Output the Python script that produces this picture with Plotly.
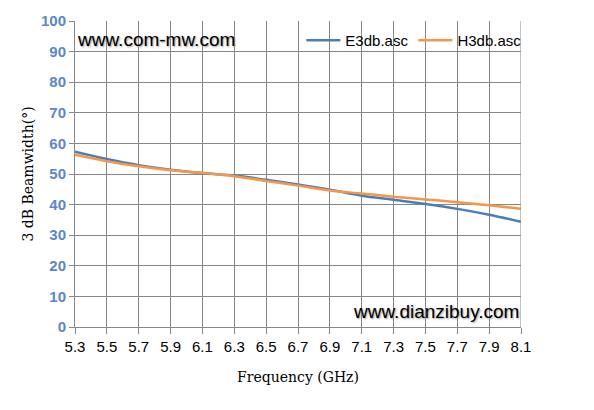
import plotly.graph_objects as go

freq = [5.3, 5.5, 5.7, 5.9, 6.1, 6.3, 6.5, 6.7, 6.9, 7.1, 7.3, 7.5, 7.7, 7.9, 8.1]
e3db = [57.3, 54.9, 52.9, 51.4, 50.3, 49.5, 48.1, 46.6, 44.9, 42.9, 41.6, 40.2, 38.6, 36.7, 34.4]
h3db = [56.3, 54.2, 52.5, 51.2, 50.3, 49.3, 47.7, 46.2, 44.6, 43.6, 42.6, 41.7, 40.8, 39.8, 38.6]
x_ticks = [5.3, 5.5, 5.7, 5.9, 6.1, 6.3, 6.5, 6.7, 6.9, 7.1, 7.3, 7.5, 7.7, 7.9, 8.1]
y_ticks = [0, 10, 20, 30, 40, 50, 60, 70, 80, 90, 100]

fig = go.Figure()
fig.add_trace(go.Scatter(x=freq, y=e3db, mode="lines", name="E3db.asc",
                         line=dict(color="#4A7EBB", width=2.5, shape="spline")))
fig.add_trace(go.Scatter(x=freq, y=h3db, mode="lines", name="H3db.asc",
                         line=dict(color="#F79646", width=2.5, shape="spline")))

fig.update_layout(
    width=594, height=410,
    margin=dict(l=75, r=73, t=21, b=83, autoexpand=False),
    paper_bgcolor="white", plot_bgcolor="white",
    showlegend=True,
    legend=dict(orientation="h", x=1.012, xanchor="right", y=0.99, yanchor="top",
                font=dict(family="Liberation Sans", size=15, color="#000000"),
                bgcolor="rgba(0,0,0,0)", itemwidth=34, tracegroupgap=0),
    xaxis=dict(range=[5.3, 8.1], tickvals=x_ticks, ticktext=[f"{v:.1f}" for v in x_ticks],
               automargin=False,
               showgrid=True, gridcolor="#868686", gridwidth=1,
               showline=True, linecolor="#868686", linewidth=1,
               ticks="outside", ticklen=6, tickcolor="#868686",
               tickfont=dict(family="Liberation Sans", size=15, color="#000000"),
               title=dict(text="Frequency (GHz)", standoff=18,
                          font=dict(family="DejaVu Serif", size=14, color="#000000")),
               zeroline=False, mirror=False),
    yaxis=dict(range=[0, 100], tickvals=y_ticks, automargin=False,
               showgrid=True, gridcolor="#868686", gridwidth=1,
               showline=True, linecolor="#868686", linewidth=1,
               ticks="outside", ticklen=5, tickcolor="#868686",
               tickfont=dict(family="Liberation Sans", size=15, color="#5B87C8", weight="bold"),
               title=dict(text="3 dB Beamwidth(°)", standoff=4,
                          font=dict(family="DejaVu Serif", size=14, color="#000000")),
               zeroline=False),
)

# right grid border line
fig.add_shape(type="line", xref="x", yref="paper", x0=8.1, x1=8.1, y0=0, y1=1,
              line=dict(color="#868686", width=1))

fig.add_annotation(text="www.com-mw.com", xref="paper", yref="paper", x=0.0, y=0.94,
                   xanchor="left", yanchor="middle", showarrow=False,
                   font=dict(family="Liberation Sans", size=19, color="#000000",
                             shadow="1px 1px 2px #999999"))
fig.add_annotation(text="www.dianzibuy.com", xref="paper", yref="paper", x=1.0, y=0.052,
                   xanchor="right", yanchor="middle", showarrow=False,
                   font=dict(family="Liberation Sans", size=19, color="#000000",
                             shadow="1px 1px 2px #999999"))

fig.write_html("out.html", config={"displayModeBar": False},
               post_script="document.body.style.margin='0';")
